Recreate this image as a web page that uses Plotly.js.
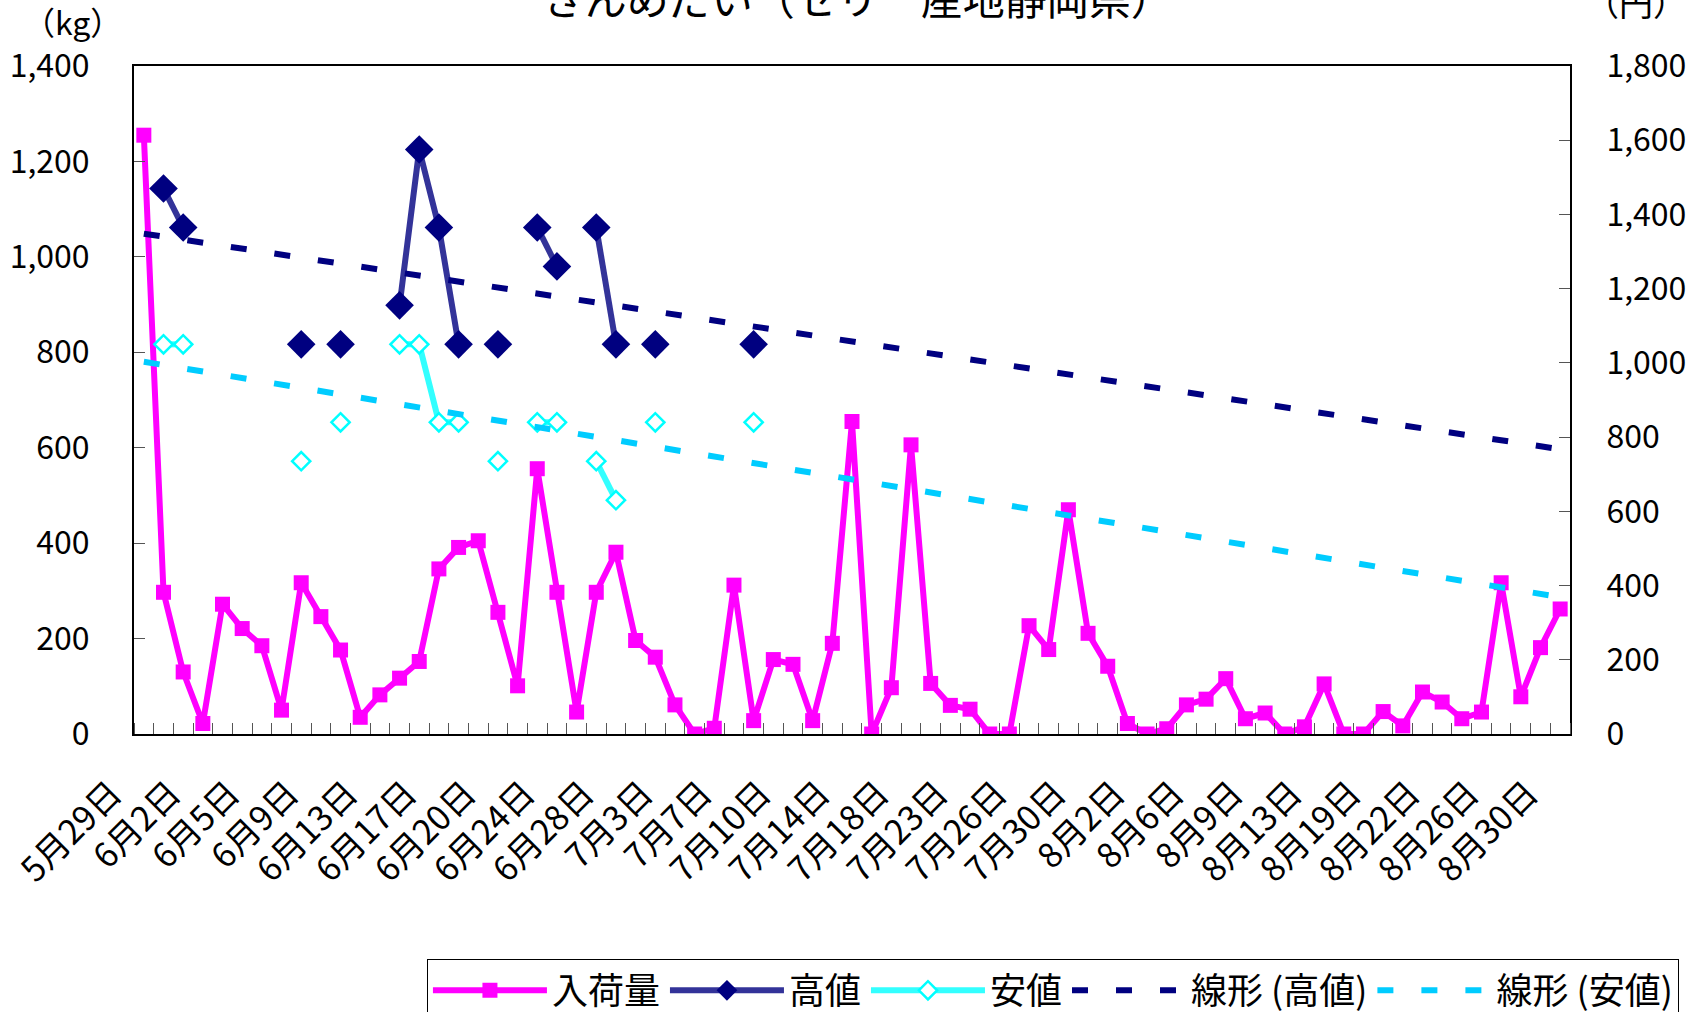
<!DOCTYPE html>
<html><head><meta charset="utf-8">
<script src="https://cdn.plot.ly/plotly-3.0.1.min.js"></script>
<style>html,body{margin:0;padding:0;background:#fff}#chart{width:1701px;height:1012px}</style>
</head><body><div id="chart"></div>
<script>
const dates = ["5月29日","5月30日","5月31日","6月2日","6月3日","6月4日","6月5日","6月6日","6月7日","6月9日",
"6月10日","6月12日","6月13日","6月14日","6月16日","6月17日","6月18日","6月19日","6月20日","6月21日",
"6月23日","6月24日","6月26日","6月27日","6月28日","6月30日","7月1日","7月3日","7月4日","7月5日",
"7月7日","7月8日","7月9日","7月10日","7月11日","7月12日","7月14日","7月15日","7月17日","7月18日",
"7月19日","7月22日","7月23日","7月24日","7月25日","7月26日","7月28日","7月29日","7月30日","7月31日",
"8月1日","8月2日","8月4日","8月5日","8月6日","8月7日","8月8日","8月9日","8月11日","8月12日",
"8月13日","8月16日","8月18日","8月19日","8月20日","8月21日","8月22日","8月23日","8月25日","8月26日",
"8月28日","8月29日","8月30日"];

const arrival = [1255,297,130,22,272,221,185,50,317,246,
176,35,82,117,152,346,391,405,255,101,
556,297,46,297,381,196,161,61,0,12,
312,28,156,146,28,190,655,0,97,606,
106,60,52,0,0,227,177,470,211,142,
22,0,11,61,73,116,32,44,0,15,
105,0,0,47,17,88,67,32,46,317,
78,181,262];

const high = [null,1470,1365,null,null,null,null,null,1050,null,
1050,null,null,1155,1575,1365,1050,null,1050,null,
1365,1260,null,1365,1050,null,1050,null,null,null,
null,1050,null,null,null,null,null,null,null,null,
null,null,null,null,null,null,null,null,null,null,
null,null,null,null,null,null,null,null,null,null,
null,null,null,null,null,null,null,null,null,null,
null,null,null];

const low = [null,1050,1050,null,null,null,null,null,735,null,
840,null,null,1050,1050,840,840,null,735,null,
840,840,null,735,630,null,840,null,null,null,
null,840,null,null,null,null,null,null,null,null,
null,null,null,null,null,null,null,null,null,null,
null,null,null,null,null,null,null,null,null,null,
null,null,null,null,null,null,null,null,null,null,
null,null,null];

const seriesNames = ["入荷量","高値","安値","線形 (高値)","線形 (安値)"];
const titleText = "きんめだい（セリ　産地静岡県）";
const unitLeft = "（kg）";
const unitRight = "（円）";
const labelStep = 3;

const idx = dates.map((d,i)=>i);
const tickIdx = idx.filter(i => i % labelStep === 0);
const tickTxt = tickIdx.map(i => dates[i]);

function linfit(ys){
  let n=0,sx=0,sy=0,sxx=0,sxy=0;
  ys.forEach((y,i)=>{ if(y!==null){ n++; sx+=i; sy+=y; sxx+=i*i; sxy+=i*y; } });
  const b=(n*sxy-sx*sy)/(n*sxx-sx*sx), a=(sy-b*sx)/n;
  return idx.map(i=>a+b*i);
}

const font = "Noto Sans CJK JP, Noto Sans, sans-serif";

const traces = [
  {x:idx, y:arrival, name:seriesNames[0], type:'scatter', mode:'lines+markers',
   line:{color:'#FF00FF', width:6}, marker:{symbol:'square', size:15, color:'#FF00FF'}, yaxis:'y'},
  {x:idx, y:high, name:seriesNames[1], type:'scatter', mode:'lines+markers', connectgaps:false,
   line:{color:'#333399', width:6}, marker:{symbol:'diamond', size:22, color:'#000080'}, yaxis:'y2'},
  {x:idx, y:low, name:seriesNames[2], type:'scatter', mode:'lines+markers', connectgaps:false,
   line:{color:'#33FFFF', width:6}, marker:{symbol:'diamond', size:14, color:'#FFFFFF', line:{color:'#00FFFF', width:2.5}}, yaxis:'y2'},
  {x:idx, y:linfit(high), name:seriesNames[3], type:'scatter', mode:'lines',
   line:{color:'#000080', width:6, dash:'16px,28px'}, yaxis:'y2'},
  {x:idx, y:linfit(low), name:seriesNames[4], type:'scatter', mode:'lines',
   line:{color:'#00CCFF', width:6, dash:'16px,28px'}, yaxis:'y2'}
];

const axisCommon = {showgrid:false, zeroline:false, showline:true, linecolor:'#000', linewidth:2, automargin:false,
  ticks:'inside', ticklen:11, tickwidth:1, tickcolor:'#555', tickfont:{size:32, color:'#000', family:font}};

const layout = {
  width:1701, height:1012,
  margin:{l:134, r:131, t:66, b:278, autoexpand:false},
  paper_bgcolor:'#fff', plot_bgcolor:'#fff',
  font:{family:font, color:'#000'},
  title:{text:titleText, font:{size:42, family:font, color:'#000'}, xref:'paper', x:0.504, xanchor:'center', yref:'container', y:1, yanchor:'middle'},
  xaxis:Object.assign({}, axisCommon, {range:[-0.5,72.5], mirror:true, tickmode:'array', tickvals:tickIdx, ticktext:tickTxt,
    ticks:'', tickangle:-45, ticklabelstandoff:24, ticklabelshift:-32, tickfont:{size:34, color:'#000', family:font},
    minor:{tickmode:'linear', tick0:-0.5, dtick:1, ticks:'inside', ticklen:11, tickwidth:1, tickcolor:'#555'}}),
  yaxis:Object.assign({}, axisCommon, {range:[0,1400], dtick:200, tickformat:',d', ticklabelstandoff:36}),
  yaxis2:Object.assign({}, axisCommon, {range:[0,1800], dtick:200, tickformat:',d', overlaying:'y', side:'right', ticklabelstandoff:28}),
  showlegend:true,
  legend:{orientation:'h', xref:'paper', x:0.204, xanchor:'left', yref:'container', y:0.052, yanchor:'top', bordercolor:'#000', borderwidth:1,
    bgcolor:'#fff', font:{size:36, family:font, color:'#000'}, itemwidth:114, traceorder:'normal'},
  annotations:[
    {text:unitLeft, xref:'paper', yref:'paper', x:-0.043, y:1.068, xanchor:'center', yanchor:'middle', showarrow:false, font:{size:32, family:font, color:'#000'}},
    {text:unitRight, xref:'paper', yref:'paper', x:1.046, y:1.096, xanchor:'center', yanchor:'middle', showarrow:false, font:{size:34, family:font, color:'#000'}}
  ]
};

Plotly.newPlot('chart', traces, layout, {displayModeBar:false, staticPlot:true});
</script>
</body></html>
